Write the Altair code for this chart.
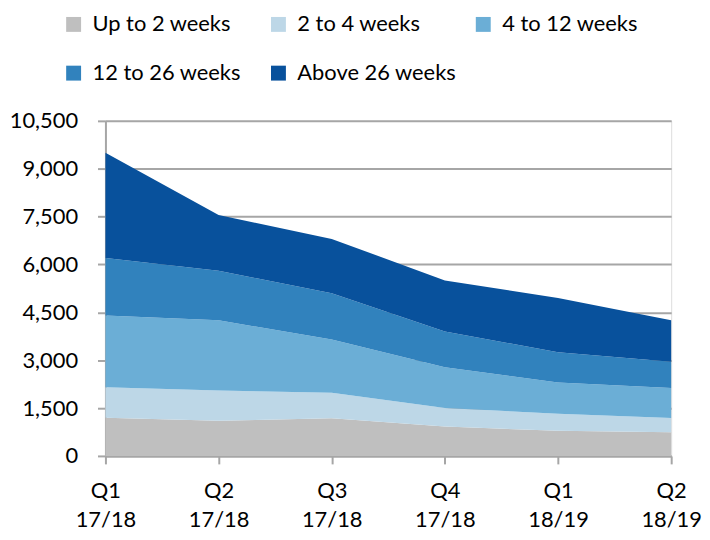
import altair as alt
import pandas as pd

quarters = ["Q1 17/18", "Q2 17/18", "Q3 17/18", "Q4 17/18", "Q1 18/19", "Q2 18/19"]
series = ["Up to 2 weeks", "2 to 4 weeks", "4 to 12 weeks", "12 to 26 weeks", "Above 26 weeks"]
up_to_2 = [1200, 1100, 1180, 920, 790, 740]
w2_4 = [950, 950, 800, 580, 530, 450]
w4_12 = [2250, 2200, 1670, 1280, 980, 940]
w12_26 = [1800, 1550, 1450, 1120, 950, 820]
above_26 = [3300, 1750, 1700, 1600, 1700, 1300]
colors = ["#BFBFBF", "#BDD7E7", "#6BAED6", "#3182BD", "#08519C"]
y_ticks = [0, 1500, 3000, 4500, 6000, 7500, 9000, 10500]

rows = []
for k, (name, vals) in enumerate(zip(series, [up_to_2, w2_4, w4_12, w12_26, above_26])):
    for q, v in zip(quarters, vals):
        rows.append({"quarter": q, "series": name, "value": v, "k": k})
df = pd.DataFrame(rows)

FONT = "Lato"
GRID = "#A6A6A6"

chart = alt.Chart(df).mark_area(opacity=1, strokeWidth=0).encode(
    x=alt.X("quarter:N", sort=quarters,
            scale=alt.Scale(type="point", padding=0),
            axis=alt.Axis(title=None, labelAngle=0, labelExpr="split(datum.label, ' ')",
                          labelFontSize=22, labelFont=FONT, labelColor="#000000",
                          labelPadding=17, labelLineHeight=29, labelBaseline="top",
                          tickSize=8, tickColor=GRID, tickWidth=2,
                          domainColor=GRID, domainWidth=2, grid=False)),
    y=alt.Y("value:Q", stack="zero",
            scale=alt.Scale(domain=[0, 10500], nice=False),
            axis=alt.Axis(title=None, values=y_ticks, format=",.0f",
                          labelFontSize=22, labelFont=FONT, labelColor="#000000",
                          labelPadding=20, tickSize=8, tickColor=GRID, tickWidth=2,
                          domainColor=GRID, domainWidth=2,
                          grid=True, gridColor=GRID, gridWidth=2)),
    color=alt.Color("series:N", sort=series,
                    scale=alt.Scale(domain=series, range=colors),
                    legend=alt.Legend(title=None, orient="none", legendX=-43, legendY=-108,
                                      direction="horizontal", columns=3,
                                      symbolType="square", symbolSize=225,
                                      symbolStrokeWidth=0, symbolOpacity=1,
                                      labelFontSize=22, labelFont=FONT, labelColor="#000000",
                                      labelOffset=8, labelLimit=0,
                                      columnPadding=16, rowPadding=27, gridAlign="all")),
    order=alt.Order("k:Q"),
).properties(
    width=569, height=337,
    padding={"left": 1, "top": 4, "right": 0, "bottom": 0}
).configure_view(stroke=None).configure(font=FONT)

chart.save("out.html", embed_options={"renderer": "svg", "actions": False})
